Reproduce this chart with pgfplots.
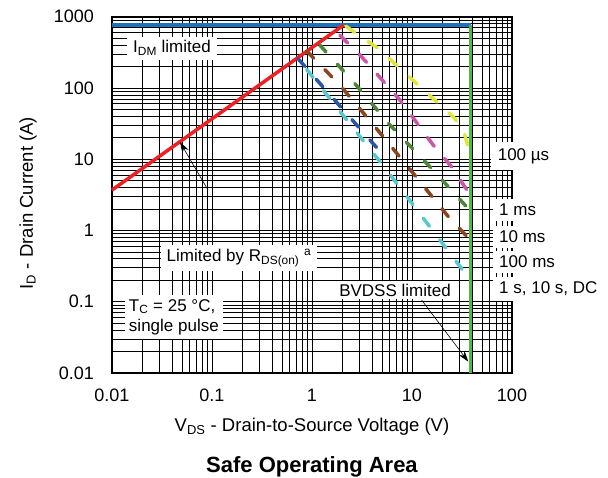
\documentclass[border=0pt]{standalone}
\usepackage{fontspec}
\setmainfont{Liberation Sans}
\usepackage{pgfplots}
\pgfplotsset{compat=1.18}
\usetikzlibrary{arrows.meta}

\definecolor{cBlue}{RGB}{28,117,188}
\definecolor{cGreen}{RGB}{76,184,72}
\definecolor{cRed}{RGB}{237,32,36}
\definecolor{cYellow}{RGB}{226,229,58}
\definecolor{cMagenta}{RGB}{204,84,170}
\definecolor{cDGreen}{RGB}{75,135,55}
\definecolor{cBrown}{RGB}{139,69,31}
\definecolor{cDBlue}{RGB}{40,85,165}
\definecolor{cCyan}{RGB}{85,200,210}

\begin{document}
\begin{tikzpicture}[font=\fontsize{17}{20}\selectfont]
\useasboundingbox (-112pt,-105pt) rectangle (496pt,373pt);
\begin{axis}[
    at={(0,0)}, anchor=south west,
    scale only axis, width=400pt, height=356.3pt,
    xmode=log, ymode=log,
    xmin=0.01, xmax=100, ymin=0.01, ymax=1000,
    xtick={0.01,0.1,1,10,100},
    xticklabels={0.01,0.1,1,10,100},
    ytick={0.01,0.1,1,10,100,1000},
    yticklabels={0.01,0.1,1,10,100,1000},
    minor xtick={0.02,0.03,0.04,0.05,0.06,0.07,0.08,0.09,
                 0.2,0.3,0.4,0.5,0.6,0.7,0.8,0.9,
                 2,3,4,5,6,7,8,9,20,30,40,50,60,70,80,90},
    minor ytick={0.02,0.03,0.04,0.05,0.06,0.07,0.08,0.09,
                 0.2,0.3,0.4,0.5,0.6,0.7,0.8,0.9,
                 2,3,4,5,6,7,8,9,20,30,40,50,60,70,80,90,
                 200,300,400,500,600,700,800,900},
    grid=both,
    major grid style={black, line width=0.9pt},
    minor grid style={black, line width=0.7pt},
    axis line style={black, line width=2pt},
    major tick length=0pt, minor tick length=0pt,
    tick label style={font=\fontsize{18}{21}\selectfont},
    xticklabel style={anchor=center, inner sep=0pt, yshift=-22pt},
    yticklabel style={anchor=east, inner sep=0pt, xshift=-18pt},
    xlabel={V\textsubscript{DS} - Drain-to-Source Voltage (V)},
    ylabel={I\textsubscript{D} - Drain Current (A)},
    label style={font=\fontsize{18.5}{22}\selectfont},
    xlabel style={at={(axis description cs:0.5,-0.1516)}, anchor=center},
    ylabel style={at={(axis description cs:-0.21,0.477)}, anchor=center},
    clip=false,
]
% limits
\addplot[cBlue, line width=3.5pt] coordinates {(0.01,760) (38.5,760)};
\addplot[cRed, line width=3.5pt] coordinates {(0.01,3.69) (2.06,760)};

% pulse curves
\addplot[cYellow, line width=3.5pt, line cap=round, dash pattern=on 11pt off 16pt]
  coordinates {(2.18,735) (4.6,358) (11.1,115.6) (25.9,39.3) (32.6,25.6) (38.5,11.5)};
\addplot[cMagenta, line width=3.5pt, line cap=round, dash pattern=on 11pt off 16pt]
  coordinates {(1.9,550) (3.14,273) (7.59,67.5) (16.3,15.8) (24.9,7.82) (38.5,3.1)};
\addplot[cDGreen, line width=3.5pt, line cap=round, dash pattern=on 9pt off 17pt]
  coordinates {(1.2,398) (2.59,122) (6.03,30.1) (14.6,8.26) (38.5,1.87)};
\addplot[cBrown, line width=3.5pt, line cap=round, dash pattern=on 10pt off 16pt]
  coordinates {(0.885,330) (1.905,109) (4.27,28.5) (10.3,6.32) (23.1,1.56) (38.5,0.73)};
\addplot[cDBlue, line width=3.5pt, line cap=round, dash pattern=on 10pt off 17pt]
  coordinates {(0.73,255) (4.98,12.1)};
\addplot[cCyan, line width=3.5pt, line cap=round, dash pattern=on 10pt off 17pt, dash phase=13.5pt]
  coordinates {(0.73,255) (5.58,7.03) (38.5,0.2)};

\addplot[cGreen, line width=3.5pt] coordinates {(38.5,0.01) (38.5,760)};

% annotations
\node[fill=white, inner xsep=6pt, inner ysep=4pt] at (rel axis cs:0.15,0.912)
  {I\textsubscript{DM} limited};
\node[fill=white, inner xsep=6pt, inner ysep=4pt] at (rel axis cs:0.3175,0.323)
  {Limited by R\textsubscript{DS(on)} \textsuperscript{a}};
\node[fill=white, align=left, inner xsep=4pt, inner ysep=4pt, anchor=west] at (rel axis cs:0.032,0.157)
  {T\textsubscript{C} = 25 °C,\\single pulse};
\node[fill=white, inner xsep=5pt, inner ysep=3pt] at (rel axis cs:0.7075,0.233)
  {BVDSS limited};

\draw[black, line width=0.6pt, -{Stealth[length=11pt,width=7pt]}]
  (rel axis cs:0.24,0.5136) -- (rel axis cs:0.17,0.648);
\draw[black, line width=0.6pt, -{Stealth[length=11pt,width=7pt]}]
  (rel axis cs:0.774,0.2048) -- (rel axis cs:0.8908,0.0317);

\node[fill=white, anchor=west, inner xsep=7pt, inner ysep=6pt] at (rel axis cs:0.9465,0.609) {100 µs};
\node[fill=white, anchor=west, inner xsep=6pt, inner ysep=5pt] at (rel axis cs:0.9525,0.4575) {1 ms};
\node[fill=white, anchor=west, inner xsep=6pt, inner ysep=5pt] at (rel axis cs:0.9525,0.3817) {10 ms};
\node[fill=white, anchor=west, inner xsep=6pt, inner ysep=5pt] at (rel axis cs:0.9525,0.3115) {100 ms};
\node[fill=white, anchor=west, inner xsep=6pt, inner ysep=5pt] at (rel axis cs:0.9525,0.2358) {1 s, 10 s, DC};

\node[font=\fontsize{22}{26}\selectfont\bfseries] at (axis description cs:0.5,-0.2638)
  {Safe Operating Area};
\end{axis}
\end{tikzpicture}
\end{document}
